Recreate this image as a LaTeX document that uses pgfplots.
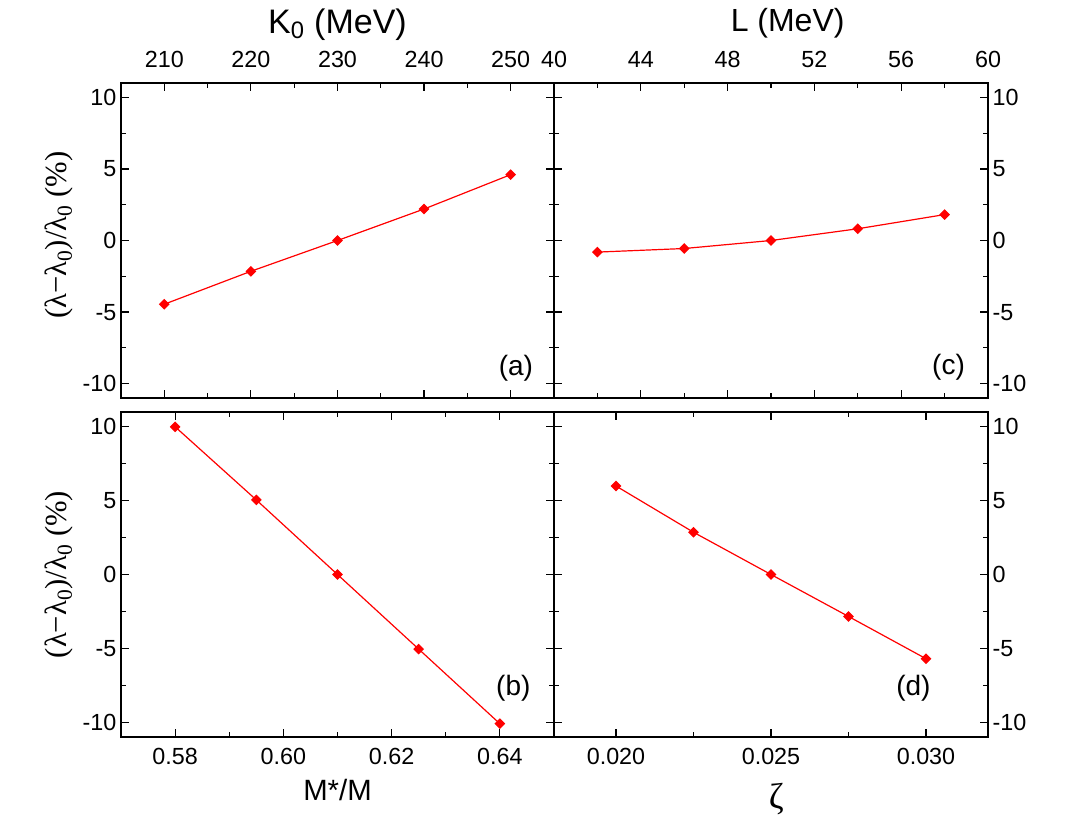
\documentclass[border=0pt]{standalone}
\usepackage{fontspec}
\setmainfont{Liberation Sans}
\newfontfamily\grk{Liberation Serif}
\usepackage{pgfplots}
\pgfplotsset{compat=1.18}
\newcommand\ylab{{\grk (λ−λ\textsubscript{0})/λ\textsubscript{0} (\%)}}

\pgfplotsset{
  panel/.style={
    scale only axis,
    ymin=-11, ymax=11,
    ytick={-10,-5,0,5,10},
    minor x tick num=1, minor y tick num=1,
    xtick pos=both, ytick pos=both,
    tick align=inside,
    major tick length=6pt, minor tick length=3.5pt,
    axis line style={line width=1.1pt},
    every tick/.append style={black, line width=0.9pt},
    tick label style={font=\fontsize{17.5}{20}\selectfont},
    /pgf/number format/assume math mode=true,
    scaled ticks=false,
    label style={black},
  },
  toppanel/.style={xticklabel pos=upper, xticklabel style={yshift=8pt}},
  botpanel/.style={xticklabel style={yshift=-4.5pt}},
  curve/.style={red, line width=0.9pt, mark=square*,
    mark size=2.4pt, mark options={rotate=45, solid}},
}
\tikzset{tag/.style={font=\fontsize{21}{25}\selectfont, anchor=center}}

\begin{document}
\begin{tikzpicture}
\useasboundingbox (0,0) rectangle (800.25pt,-612.75pt);

% (a) top left: K0
\begin{axis}[panel, toppanel, at={(90.75pt,-298.5pt)}, anchor=south west,
    width=324.75pt, height=236.25pt,
    xmin=205, xmax=255, xtick={210,220,...,250},
    xlabel={K\textsubscript{0} (MeV)},
    xlabel style={font=\fontsize{25.5}{30}\selectfont, yshift=1pt},
    ylabel={\ylab},
    ylabel style={font=\fontsize{23}{27}\selectfont, xshift=4pt}]
\addplot[curve] coordinates {(210,-4.45) (220,-2.15) (230,0) (240,2.2) (250,4.6)};
\node[tag] at (axis description cs:0.912,0.095) {(a)};
\end{axis}

% (c) top right: L
\begin{axis}[panel, toppanel, at={(415.5pt,-298.5pt)}, anchor=south west,
    width=325.5pt, height=236.25pt,
    xmin=40, xmax=60, xtick={40,44,...,60},
    yticklabel pos=right,
    xlabel={L (MeV)},
    xlabel style={font=\fontsize{24}{28}\selectfont, xshift=12.5pt, yshift=3pt}]
\addplot[curve] coordinates {(42,-0.81) (46,-0.56) (50,0) (54,0.82) (58,1.81)};
\node[tag] at (axis description cs:0.909,0.097) {(c)};
\end{axis}

% (b) bottom left: M*/M
\begin{axis}[panel, botpanel, at={(90.75pt,-552.75pt)}, anchor=south west,
    width=324.75pt, height=243.75pt,
    xmin=0.57, xmax=0.65, xtick={0.58,0.60,0.62,0.64},
    xticklabel style={/pgf/number format/fixed,
      /pgf/number format/fixed zerofill, /pgf/number format/precision=2},
    xlabel={M*/M},
    xlabel style={font=\fontsize{22}{26}\selectfont, yshift=-4.5pt},
    ylabel={\ylab},
    ylabel style={font=\fontsize{23}{27}\selectfont}]
\addplot[curve] coordinates {(0.58,10.0) (0.595,5.05) (0.61,0) (0.625,-5.05) (0.64,-10.1)};
\node[tag] at (axis description cs:0.906,0.151) {(b)};
\end{axis}

% (d) bottom right: zeta
\begin{axis}[panel, botpanel, at={(415.5pt,-552.75pt)}, anchor=south west,
    width=325.5pt, height=243.75pt,
    xmin=0.018, xmax=0.032, xtick={0.020,0.025,0.030},
    xticklabel style={/pgf/number format/fixed,
      /pgf/number format/fixed zerofill, /pgf/number format/precision=3},
    yticklabel pos=right,
    xlabel={\grk ζ},
    xlabel style={font=\fontsize{27}{31}\selectfont, xshift=4pt, yshift=-7pt}]
\addplot[curve] coordinates {(0.020,5.99) (0.0225,2.86) (0.025,0) (0.0275,-2.84) (0.030,-5.7)};
\node[tag] at (axis description cs:0.828,0.151) {(d)};
\end{axis}
\end{tikzpicture}
\end{document}
